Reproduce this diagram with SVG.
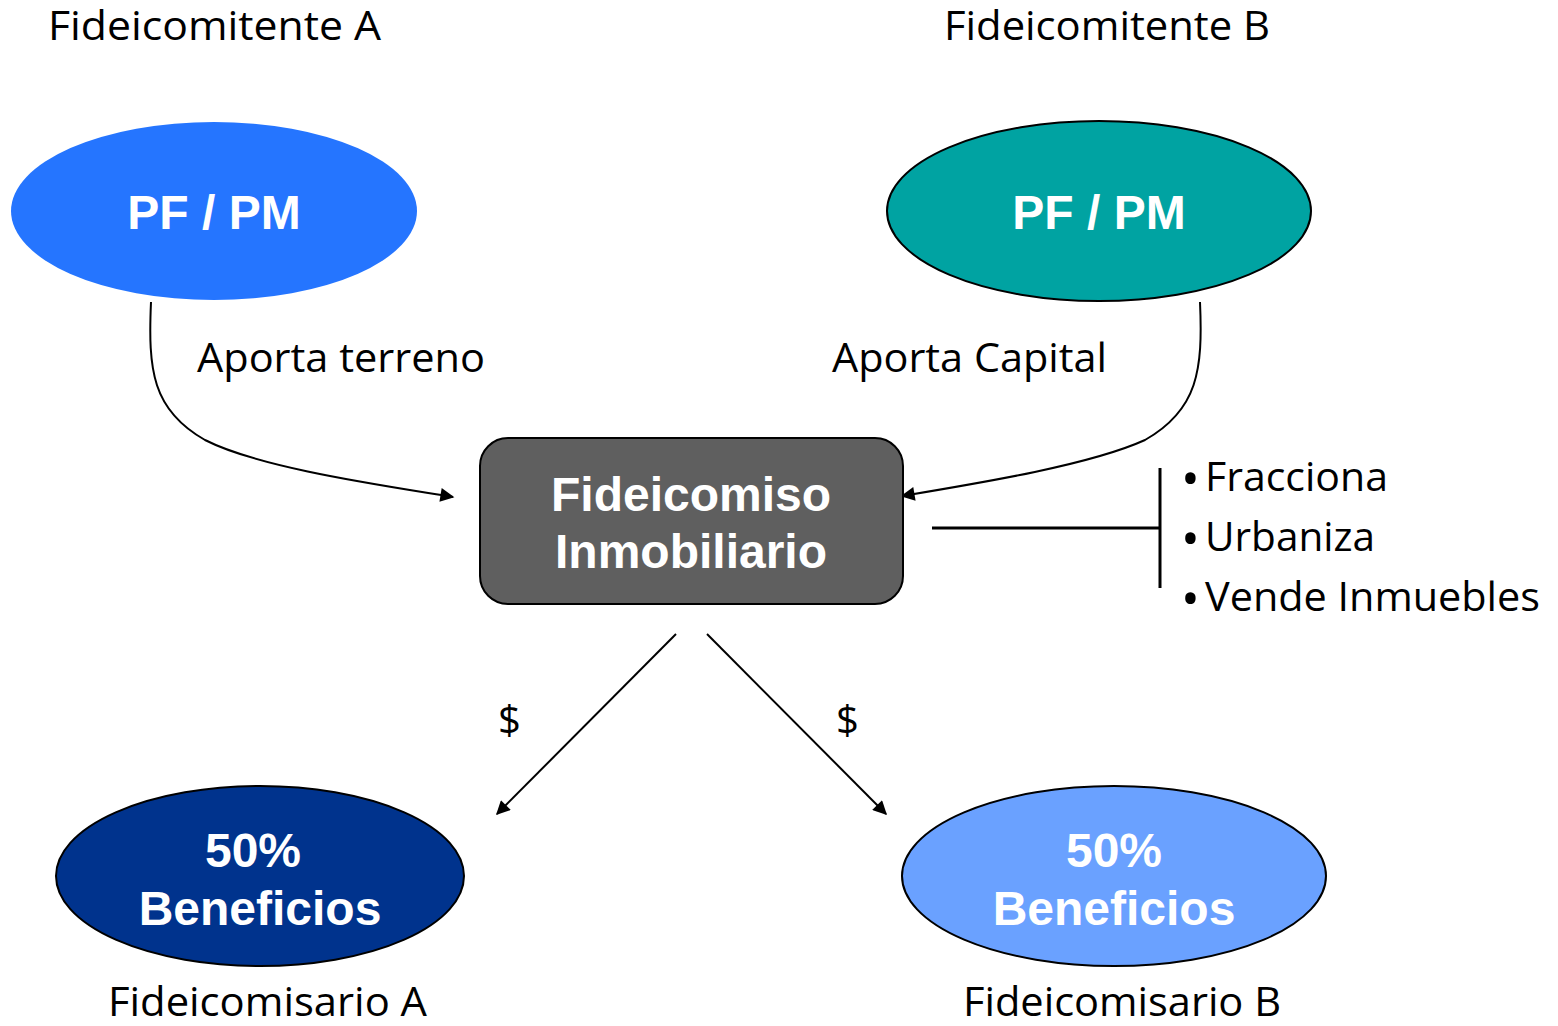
<svg xmlns="http://www.w3.org/2000/svg" width="1558" height="1026" viewBox="0 0 1558 1026">
<style>
.lbl{font-family:"Open Sans","Noto Sans",sans-serif;font-size:40px;fill:#000}
.bold{font-family:"Liberation Sans",Arial,sans-serif;font-weight:bold;font-size:48px;fill:#fff;text-anchor:middle}
.conn{fill:none;stroke:#000;stroke-width:2}
.bul{font-size:50px}
</style>
<defs>
<marker id="arrL" viewBox="0 0 10 10" refX="9" refY="5" markerWidth="18" markerHeight="14" markerUnits="userSpaceOnUse" orient="auto">
<path d="M0,0 L10,5 L0,10 z" fill="#000"/>
</marker>
</defs>
<rect width="1558" height="1026" fill="#fff"/>
<text class="lbl" x="48" y="40" textLength="333" lengthAdjust="spacingAndGlyphs">Fideicomitente A</text>
<text class="lbl" x="944" y="40" textLength="326" lengthAdjust="spacingAndGlyphs">Fideicomitente B</text>
<g id="connectors">
<path class="conn" d="M151,302 C148,370 152,410 205,440 C260,468 380,485 453,497" marker-end="url(#arrL)"/>
<path class="conn" d="M1200,302 C1203,370 1198,410 1145,440 C1090,465 980,483 902,496" marker-end="url(#arrL)"/>
<line x1="932" y1="528" x2="1160" y2="528" stroke="#000" stroke-width="3"/>
<line x1="1160" y1="468" x2="1160" y2="588" stroke="#000" stroke-width="3"/>
<line class="conn" x1="676" y1="634" x2="497" y2="814" marker-end="url(#arrL)"/>
<line class="conn" x1="707" y1="634" x2="886" y2="814" marker-end="url(#arrL)"/>
</g>
<g id="pfA">
<ellipse cx="214" cy="211" rx="203" ry="89" fill="#2575FF"/>
<text class="bold" x="214" y="229">PF / PM</text>
</g>
<g id="pfB">
<ellipse cx="1099" cy="211" rx="212" ry="90" fill="#00A3A2" stroke="#000" stroke-width="2"/>
<text class="bold" x="1099" y="229">PF / PM</text>
</g>
<g id="fideicomiso">
<rect x="480" y="438" width="423" height="166" rx="28" fill="#5F5F5F" stroke="#000" stroke-width="2"/>
<text class="bold" x="691" y="511">Fideicomiso</text>
<text class="bold" x="691" y="568">Inmobiliario</text>
</g>
<g id="benefA">
<ellipse cx="260" cy="876" rx="204" ry="90" fill="#00338D" stroke="#000" stroke-width="2"/>
<text class="bold" x="253" y="867">50%</text>
<text class="bold" x="260" y="925">Beneficios</text>
</g>
<g id="benefB">
<ellipse cx="1114" cy="876" rx="212" ry="90" fill="#6AA1FF" stroke="#000" stroke-width="2"/>
<text class="bold" x="1114" y="867">50%</text>
<text class="bold" x="1114" y="925">Beneficios</text>
</g>
<text class="lbl" x="197" y="372" textLength="288" lengthAdjust="spacingAndGlyphs">Aporta terreno</text>
<text class="lbl" x="832" y="372" textLength="275" lengthAdjust="spacingAndGlyphs">Aporta Capital</text>
<text class="lbl" x="498" y="734">$</text>
<text class="lbl" x="836" y="734">$</text>
<text class="lbl" x="1181" y="491"><tspan class="bul" dy="5">•</tspan><tspan x="1205" dy="-5" textLength="183" lengthAdjust="spacingAndGlyphs">Fracciona</tspan></text>
<text class="lbl" x="1181" y="551"><tspan class="bul" dy="5">•</tspan><tspan x="1205" dy="-5" textLength="170" lengthAdjust="spacingAndGlyphs">Urbaniza</tspan></text>
<text class="lbl" x="1181" y="611"><tspan class="bul" dy="5">•</tspan><tspan x="1205" dy="-5" textLength="335" lengthAdjust="spacingAndGlyphs">Vende Inmuebles</tspan></text>
<text class="lbl" x="108" y="1016" textLength="319" lengthAdjust="spacingAndGlyphs">Fideicomisario A</text>
<text class="lbl" x="963" y="1016" textLength="318" lengthAdjust="spacingAndGlyphs">Fideicomisario B</text>
</svg>
